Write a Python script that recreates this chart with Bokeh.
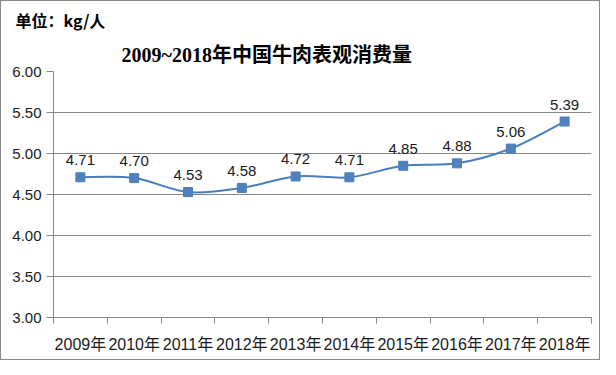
from bokeh.plotting import figure
from bokeh.models import Range1d, FixedTicker, NumeralTickFormatter, Title, ColumnDataSource
from bokeh.core.properties import value
from bokeh.embed import file_html
from bokeh.resources import INLINE

years = ["2009年", "2010年", "2011年", "2012年", "2013年", "2014年", "2015年", "2016年", "2017年", "2018年"]
consumption = [4.71, 4.70, 4.53, 4.58, 4.72, 4.71, 4.85, 4.88, 5.06, 5.39]
y_ticks = [3.0, 3.5, 4.0, 4.5, 5.0, 5.5, 6.0]
title_text = "2009~2018年中国牛肉表观消费量"
unit_text = "单位：kg/人"

n = len(years)
xs = [i + 0.5 for i in range(n)]
labels = ["%.2f" % v for v in consumption]

p = figure(width=600, height=360, output_backend="svg", toolbar_location=None,
           x_range=Range1d(0, n), y_range=Range1d(y_ticks[0], y_ticks[-1]),
           min_border_left=52, min_border_right=10, min_border_top=69, min_border_bottom=44)
p.styles = {"border": "1px solid #868686", "box-sizing": "border-box"}
p.outline_line_color = None
p.background_fill_color = "white"
p.border_fill_color = "white"

# smooth line (Excel-like bezier)
def pt(i):
    i = max(0, min(n - 1, i))
    return xs[i], consumption[i]
x0s, y0s, x1s, y1s, cx0, cy0, cx1, cy1 = [], [], [], [], [], [], [], []
for i in range(n - 1):
    pa, pb, pc, pd = pt(i - 1), pt(i), pt(i + 1), pt(i + 2)
    x0s.append(pb[0]); y0s.append(pb[1]); x1s.append(pc[0]); y1s.append(pc[1])
    cx0.append(pb[0] + (pc[0] - pa[0]) / 6); cy0.append(pb[1] + (pc[1] - pa[1]) / 6)
    cx1.append(pc[0] - (pd[0] - pb[0]) / 6); cy1.append(pc[1] - (pd[1] - pb[1]) / 6)
p.bezier(x0=x0s, y0=y0s, x1=x1s, y1=y1s, cx0=cx0, cy0=cy0, cx1=cx1, cy1=cy1,
         line_color="#4A7EBB", line_width=2)

src = ColumnDataSource(dict(x=xs, y=consumption, t=labels))
p.scatter("x", "y", source=src, marker="square", size=9, fill_color="#4F81BD", line_color="#4A7EBB")
p.text("x", "y", text="t", source=src, text_align="center", text_baseline="alphabetic",
       y_offset=-17, text_font=value("Liberation Sans"), text_font_size="15px", text_color="#1a1a1a")

# axes
p.yaxis.ticker = FixedTicker(ticks=y_ticks)
p.yaxis.formatter = NumeralTickFormatter(format="0.00")
p.yaxis.major_label_text_font = "Liberation Sans"
p.yaxis.major_label_text_font_size = "15px"
p.yaxis.major_label_text_color = "#1a1a1a"
p.yaxis.axis_line_color = "#868686"
p.yaxis.major_tick_line_color = "#868686"
p.yaxis.major_tick_out = 7
p.yaxis.major_tick_in = 0
p.yaxis.minor_tick_line_color = None
p.yaxis.major_label_standoff = 5

p.xaxis.ticker = FixedTicker(ticks=xs, minor_ticks=list(range(n + 1)))
p.xaxis.major_label_overrides = {x: y for x, y in zip(xs, years)}
p.xaxis.major_label_text_font = "Liberation Sans, Noto Sans CJK SC"
p.xaxis.major_label_text_font_size = "16px"
p.xaxis.major_label_text_color = "#1a1a1a"
p.xaxis.axis_line_color = "#868686"
p.xaxis.major_tick_line_color = None
p.xaxis.minor_tick_line_color = "#868686"
p.xaxis.minor_tick_out = 6
p.xaxis.minor_tick_in = 0
p.xaxis.major_label_standoff = 12

p.xgrid.grid_line_color = None
p.ygrid.ticker = FixedTicker(ticks=y_ticks)
p.ygrid.grid_line_color = "#868686"

main_title = Title(text=title_text, align="left", offset=68, standoff=12,
                   text_font="Liberation Serif, Noto Sans CJK SC", text_font_size="20px",
                   text_font_style="bold", text_color="#000000")
unit_title = Title(text=unit_text, align="left", offset=-38, standoff=8,
                   text_font="Noto Sans CJK SC", text_font_size="16px",
                   text_font_style="bold", text_color="#000000")
p.add_layout(main_title, "above")
p.add_layout(unit_title, "above")

open("out.html", "w").write(file_html(p, INLINE))
